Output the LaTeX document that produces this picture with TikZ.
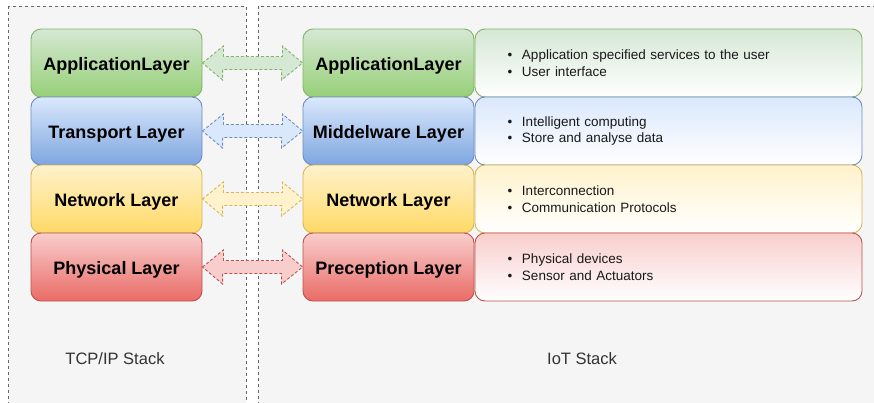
\documentclass[tikz,border=0pt]{standalone}
\usepackage{fontspec}
\setmainfont{Liberation Sans}
\usetikzlibrary{calc}

% layer palette: light fill, strong fill, stroke
\definecolor{gLight}{HTML}{D5E8D4}\definecolor{gDark}{HTML}{97D077}\definecolor{gLine}{HTML}{82B366}
\definecolor{bLight}{HTML}{DAE8FC}\definecolor{bDark}{HTML}{7EA6E0}\definecolor{bLine}{HTML}{6C8EBF}
\definecolor{yLight}{HTML}{FFF2CC}\definecolor{yDark}{HTML}{FFD966}\definecolor{yLine}{HTML}{D6B656}
\definecolor{rLight}{HTML}{F8CECC}\definecolor{rDark}{HTML}{EA6B66}\definecolor{rLine}{HTML}{B85450}
\definecolor{frameFill}{HTML}{F5F5F5}\definecolor{frameLine}{HTML}{666666}
\definecolor{caption}{HTML}{333333}

\tikzset{
  stackframe/.style={fill=frameFill, draw=frameLine, line width=0.9pt, dash pattern=on 3pt off 3pt},
  layer/.style n args={3}{draw=#3, top color=#1, bottom color=#2, line width=0.9pt,
    rounded corners=10pt, minimum width=171pt, minimum height=68pt, inner sep=0pt,
    text height=14.4pt, text depth=0pt,
    font=\fontsize{18}{20}\selectfont\bfseries},
  descbox/.style n args={2}{draw=#2, top color=#1, bottom color=white, line width=0.9pt,
    rounded corners=10pt, minimum width=387pt, minimum height=68pt, inner xsep=32pt, inner ysep=0pt,
    text width=323pt, align=left, font=\fontsize{13.5}{16.5}\selectfont, text=black!90},
  linkarrow/.style n args={2}{fill=#1, draw=#2, line width=0.9pt, dash pattern=on 3pt off 2pt},
  caption/.style={text=caption, font=\fontsize{16.5}{18}\selectfont}
}

\newcommand{\bul}{\makebox[15pt][l]{\hspace{0.5pt}•}}

% double-headed link from the east side of one box to the west side of the next
\newcommand{\linkbetween}[3]{%
  \draw[#3] (#1.east) -- ++(21,-17) -- ++(0,10.5) -- ++(59,0) -- ++(0,-10.5)
    -- (#2.west) -- ++(-21,17) -- ++(0,-10.5) -- ++(-59,0) -- ++(0,10.5) -- cycle;}

\begin{document}
\begin{tikzpicture}[x=1pt, y=-1pt]
  \useasboundingbox (0,0) rectangle (874,402);

  % the two stack frames
  \draw[stackframe] (8,6) rectangle (246,420);
  \draw[stackframe] (258,6) rectangle (900,420);

  % TCP/IP stack
  \node[layer={gLight}{gDark}{gLine}] (tApp) at (116.5,63)  {ApplicationLayer};
  \node[layer={bLight}{bDark}{bLine}] (tTra) at (116.5,131) {Transport Layer};
  \node[layer={yLight}{yDark}{yLine}] (tNet) at (116.5,199) {Network Layer};
  \node[layer={rLight}{rDark}{rLine}] (tPhy) at (116.5,267) {Physical Layer};

  % IoT stack
  \node[layer={gLight}{gDark}{gLine}] (iApp) at (388.5,63)  {ApplicationLayer};
  \node[layer={bLight}{bDark}{bLine}] (iMid) at (388.5,131) {Middelware Layer};
  \node[layer={yLight}{yDark}{yLine}] (iNet) at (388.5,199) {Network Layer};
  \node[layer={rLight}{rDark}{rLine}] (iPer) at (388.5,267) {Preception Layer};

  % descriptions of the IoT layers
  \node[descbox={gLight}{gLine}] (dApp) at (668.5,63)
    {\bul Application specified services to the user\\\bul User interface};
  \node[descbox={bLight}{bLine}] (dMid) at (668.5,131)
    {\bul Intelligent computing\\\bul Store and analyse data};
  \node[descbox={yLight}{yLine}] (dNet) at (668.5,199)
    {\bul Interconnection\\\bul Communication Protocols};
  \node[descbox={rLight}{rLine}] (dPer) at (668.5,267)
    {\bul Physical devices\\\bul Sensor and Actuators};

  % correspondence links
  \linkbetween{tApp}{iApp}{linkarrow={gLight}{gLine}}
  \linkbetween{tTra}{iMid}{linkarrow={bLight}{bLine}}
  \linkbetween{tNet}{iNet}{linkarrow={yLight}{yLine}}
  \linkbetween{tPhy}{iPer}{linkarrow={rLight}{rLine}}

  % stack captions
  \node[caption] (capTcp) at (115,359) {TCP/IP Stack};
  \node[caption] (capIot) at (582,359) {IoT Stack};
\end{tikzpicture}
\end{document}
